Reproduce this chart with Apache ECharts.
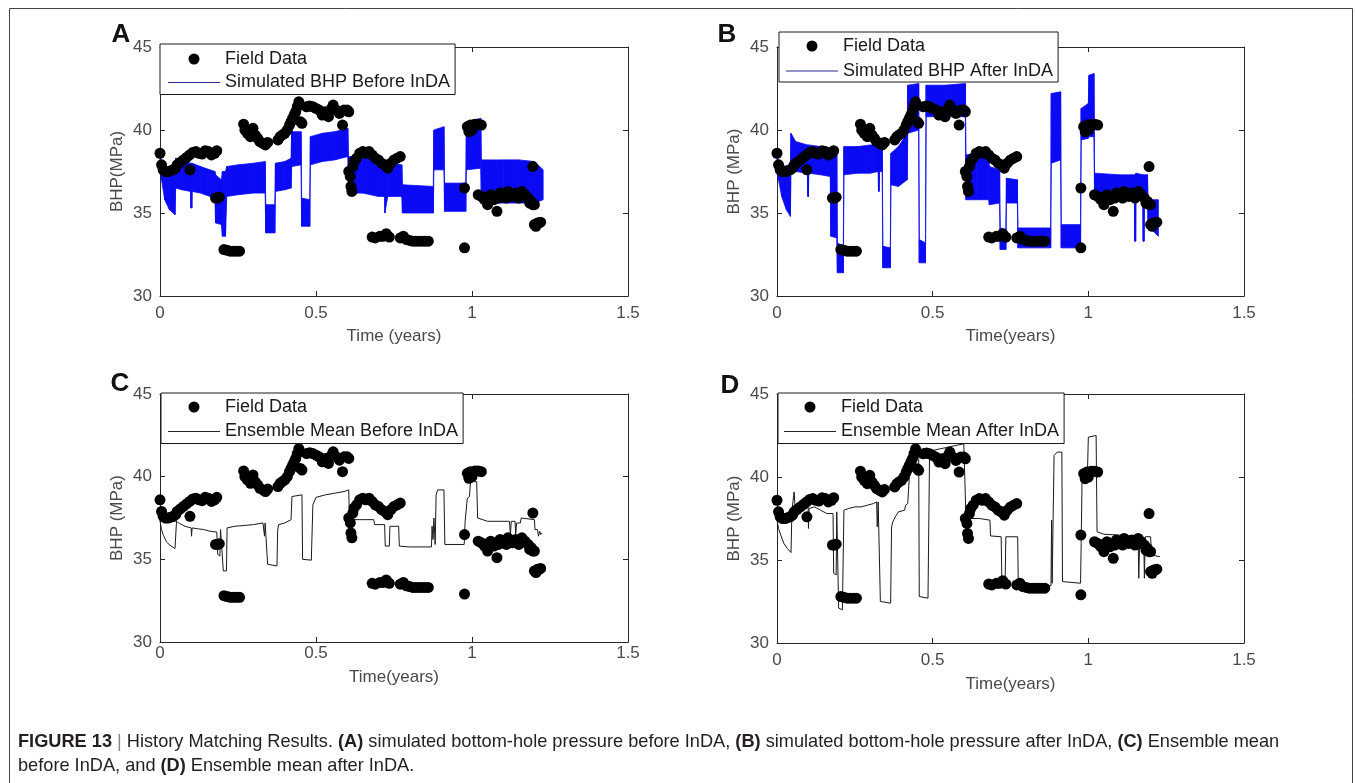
<!DOCTYPE html>
<html><head><meta charset="utf-8">
<script src="https://cdn.jsdelivr.net/npm/echarts@6/dist/echarts.min.js"></script>
<style>html,body{margin:0;padding:0;background:#fff}#c{width:1355px;height:783px}</style>
</head><body><div id="c"></div>
<script>
// ---------- data ----------
const xTicks = [0, 0.5, 1, 1.5];
const yTicks = [30, 35, 40, 45];

// field data [time (years), BHP (MPa)] – same in all four panels
const fieldData = [
[0,38.6],[0.005,37.9],[0.01,37.6],[0.018,37.5],[0.026,37.5],[0.034,37.55],[0.042,37.6],[0.05,37.7],
[0.055,37.9],[0.065,38.05],[0.075,38.2],[0.085,38.35],[0.095,38.5],[0.096,37.6],[0.105,38.65],[0.115,38.7],[0.125,38.6],[0.135,38.55],[0.145,38.75],[0.155,38.7],[0.165,38.5],[0.175,38.6],[0.182,38.75],
[0.178,35.9],[0.185,35.9],[0.19,35.95],
[0.205,32.8],[0.215,32.75],[0.225,32.7],[0.235,32.7],[0.245,32.7],[0.255,32.7],
[0.268,40.35],[0.272,40.0],[0.28,39.8],[0.283,40.0],[0.29,39.6],[0.298,40.1],[0.305,39.7],[0.313,39.5],[0.32,39.3],[0.33,39.2],[0.338,39.1],[0.345,39.25],
[0.378,39.4],[0.385,39.6],[0.392,39.7],[0.4,39.8],[0.408,40.0],[0.415,40.3],[0.42,40.5],[0.425,40.7],[0.43,40.9],[0.435,41.1],[0.44,41.4],[0.445,41.7],[0.45,40.5],[0.455,40.4],
[0.47,41.4],[0.48,41.45],[0.49,41.4],[0.5,41.3],[0.51,41.2],[0.52,40.9],[0.53,41.1],[0.54,40.8],[0.55,41.3],[0.555,41.5],[0.565,41.2],[0.575,41.0],[0.585,40.3],[0.59,41.2],[0.6,41.2],[0.605,41.1],
[0.605,37.5],[0.61,37.2],[0.612,36.6],[0.615,36.3],[0.618,37.8],[0.622,38.1],[0.63,38.3],[0.64,38.6],[0.65,38.7],[0.66,38.6],[0.67,38.7],[0.68,38.5],[0.69,38.3],[0.7,38.2],[0.71,38.0],[0.72,37.9],[0.73,37.7],[0.74,38.0],[0.75,38.2],[0.76,38.3],[0.77,38.4],
[0.68,33.55],[0.69,33.5],[0.705,33.6],[0.715,33.6],[0.725,33.75],[0.735,33.55],[0.77,33.5],[0.78,33.6],[0.79,33.4],[0.8,33.35],[0.81,33.3],[0.82,33.3],[0.83,33.3],[0.84,33.3],[0.85,33.3],[0.86,33.3],
[0.976,32.9],[0.976,36.5],
[0.985,40.2],[0.99,39.9],[0.995,40.3],[1.0,40.0],[1.005,40.3],[1.01,40.35],[1.02,40.35],[1.03,40.3],
[1.02,36.1],[1.03,36.0],[1.04,35.8],[1.05,35.5],[1.055,36.0],[1.06,36.1],[1.07,35.8],[1.08,35.1],[1.085,35.9],[1.09,36.2],[1.1,36.0],[1.11,35.9],[1.115,36.3],[1.12,36.1],[1.13,36.0],[1.14,36.2],[1.15,35.9],[1.16,36.3],[1.17,36.1],[1.18,35.9],[1.185,35.6],[1.19,35.7],[1.2,35.5],
[1.195,37.8],[1.195,35.5],
[1.2,34.3],[1.205,34.2],[1.21,34.4],[1.215,34.4],[1.22,34.45]
];

// ensemble envelope [time, lowest member, highest member]
const bandA = [
[0,37.6,38.5],[0.005,37.0,37.9],[0.015,35.8,37.8],[0.03,35.2,37.7],[0.048,34.9,37.5],
[0.05,36.5,38.3],[0.07,36.4,38.2],[0.098,36.3,38.0],[0.099,35.3,38.0],[0.102,35.3,38.0],[0.103,36.3,38.0],
[0.13,36.2,37.8],[0.16,36.0,37.6],[0.176,36.0,37.5],
[0.178,34.4,37.3],[0.197,34.3,37.0],[0.2,33.6,37.5],[0.21,33.6,37.5],
[0.214,36.0,37.8],[0.25,36.1,37.9],[0.3,36.2,38.0],[0.337,36.2,38.1],
[0.339,33.8,35.5],[0.368,33.8,35.5],
[0.37,36.3,38.0],[0.4,36.4,38.1],[0.42,36.5,38.3],
[0.422,37.8,39.9],[0.452,37.9,39.9],
[0.454,34.2,35.9],[0.48,34.2,35.8],
[0.482,37.9,39.6],[0.52,38.1,39.8],[0.56,38.2,39.9],[0.602,38.4,40.1],
[0.604,36.2,38.4],[0.65,36.2,38.4],[0.7,36.0,38.3],[0.72,36.0,38.2],
[0.721,35.0,38.0],[0.73,36.0,38.0],[0.775,36.0,37.9],
[0.777,35.0,36.7],[0.876,35.0,36.6],
[0.878,37.6,40.0],[0.91,37.6,40.2],
[0.912,35.1,36.8],[0.98,35.1,36.8],
[0.982,37.6,40.5],[1.028,37.7,40.7],
[1.03,35.6,38.2],[1.1,35.6,38.2],[1.15,35.6,38.2],[1.2,35.6,38.1],[1.228,35.8,37.6]
];
const bandB = [
[0,37.4,38.6],[0.005,37.0,38.0],[0.015,36.0,37.9],[0.03,35.2,37.8],[0.043,34.8,37.6],
[0.045,37.5,39.8],[0.06,37.5,39.3],[0.098,37.4,39.1],[0.099,36.0,39.1],[0.101,36.0,39.1],[0.102,37.4,39.1],
[0.14,37.3,39.0],[0.171,37.2,38.9],
[0.173,33.6,38.8],[0.192,33.5,38.7],[0.194,31.4,33.2],[0.213,31.4,33.0],
[0.215,37.3,39.0],[0.26,37.4,39.0],[0.3,37.4,39.1],[0.325,37.5,39.1],[0.326,36.3,39.1],[0.328,36.3,39.1],[0.329,37.5,39.2],[0.338,37.5,39.2],
[0.34,31.7,33.0],[0.364,31.7,32.9],
[0.366,36.7,38.6],[0.39,36.6,39.0],[0.418,37.0,39.8],
[0.42,39.8,42.7],[0.455,40.0,42.8],
[0.457,32.0,33.4],[0.477,32.0,33.2],
[0.479,40.8,42.7],[0.54,40.8,42.7],[0.605,40.8,42.8],
[0.607,35.8,38.5],[0.64,35.8,38.6],[0.68,35.8,38.2],
[0.682,35.5,37.8],[0.715,35.6,37.6],
[0.717,32.8,34.1],[0.735,32.8,34.0],
[0.737,35.6,37.1],[0.772,35.6,37.0],
[0.774,32.9,34.1],[0.879,32.9,34.1],
[0.881,38.0,42.2],[0.911,38.2,42.3],
[0.913,32.9,34.3],[0.975,32.9,34.3],
[0.977,39.4,41.3],[1.0,39.5,41.6],[1.002,39.6,43.3],[1.018,39.6,43.4],
[1.02,35.9,37.4],[1.1,35.9,37.3],[1.148,35.9,37.3],[1.149,33.3,37.3],[1.152,33.3,37.3],[1.153,35.9,37.4],
[1.175,35.9,37.3],[1.176,33.3,37.3],[1.179,33.3,37.3],[1.18,35.9,37.3],[1.19,35.9,37.3],
[1.192,34.2,35.8],[1.225,33.6,35.8]
];

// ensemble mean [time, BHP]; null breaks the line
const meanC = [
[0,37.3],[0.05,37.3],[0.05,null],
[0,37.3],[0.005,36.8],[0.011,36.45],[0.021,36.05],[0.032,35.85],[0.048,35.65],[0.052,35.65],[0.053,37.3],
[0.06,37.2],[0.08,37.0],[0.1,36.9],[0.101,36.4],[0.103,36.9],[0.12,36.85],[0.14,36.8],[0.16,36.7],[0.182,36.65],
[0.185,35.3],[0.192,35.2],[0.194,36.8],[0.2,36.8],[0.203,34.3],[0.213,34.3],[0.215,36.9],
[0.24,37.0],[0.27,37.05],[0.3,37.1],[0.33,37.2],[0.335,36.4],[0.337,37.2],[0.343,37.2],
[0.345,34.7],[0.375,34.6],[0.377,36.7],[0.38,37.1],[0.4,37.2],[0.42,37.4],
[0.423,38.8],[0.455,38.9],[0.457,35.0],[0.485,34.95],[0.49,38.3],[0.5,38.75],
[0.53,38.9],[0.56,39.0],[0.59,39.1],[0.605,39.2],
[0.607,37.4],[0.65,37.4],[0.685,37.4],[0.688,37.1],[0.72,37.1],
[0.722,35.8],[0.735,35.8],[0.737,37.0],[0.765,37.0],[0.767,35.8],[0.8,35.75],[0.87,35.75],
[0.872,37.0],[0.875,36.2],[0.878,37.5],[0.882,35.9],[0.885,38.9],[0.89,39.2],[0.91,39.2],
[0.913,35.9],[0.975,35.9],[0.978,37.3],[0.985,38.7],[0.992,38.8],[0.995,39.7],[1.015,39.7],
[1.018,37.5],[1.05,37.3],[1.12,37.3],[1.123,36.5],[1.126,37.3],[1.138,37.3],[1.14,36.5],[1.143,37.2],
[1.155,37.2],[1.158,37.5],[1.2,37.4],[1.202,36.8],[1.21,36.8],[1.213,36.4],[1.217,36.7],[1.22,36.5],[1.225,36.6]
];
const meanD = [
[0,37.4],[0.045,37.4],[0.045,null],
[0,37.4],[0.005,36.9],[0.012,36.5],[0.022,36.0],[0.033,35.7],[0.045,35.45],[0.047,35.4],
[0.048,38.0],[0.052,38.1],[0.055,39.1],[0.058,38.2],[0.07,38.0],[0.09,38.1],[0.1,38.2],[0.101,36.9],[0.103,38.1],
[0.12,38.2],[0.14,38.0],[0.16,37.8],[0.18,37.8],[0.182,34.2],[0.19,34.1],[0.192,37.9],[0.196,37.9],
[0.198,32.1],[0.21,32.0],[0.215,38.0],[0.23,38.1],[0.25,38.2],[0.27,38.2],[0.29,38.3],[0.31,38.4],
[0.32,38.5],[0.322,37.0],[0.325,38.5],[0.33,38.5],[0.332,32.5],[0.365,32.4],
[0.368,37.0],[0.372,37.3],[0.38,37.6],[0.39,37.9],[0.41,38.0],[0.413,38.3],[0.42,38.4],
[0.425,40.0],[0.44,41.0],[0.455,41.7],[0.457,32.8],[0.485,32.7],
[0.49,41.4],[0.5,41.6],[0.55,41.8],[0.6,42.0],[0.605,42.0],
[0.607,37.5],[0.65,37.5],[0.684,37.4],[0.686,36.45],[0.72,36.4],
[0.722,34.0],[0.733,33.95],[0.735,36.4],[0.773,36.4],[0.775,33.5],[0.82,33.5],[0.88,33.45],
[0.882,37.4],[0.884,33.6],[0.887,37.6],[0.89,41.3],[0.9,41.5],[0.915,41.5],
[0.917,33.7],[0.975,33.6],[0.977,36.0],[0.98,40.0],[0.997,40.1],[1.0,42.4],[1.025,42.5],
[1.028,36.7],[1.05,36.55],[1.1,36.5],[1.16,36.4],[1.162,33.9],[1.165,36.3],[1.178,36.3],
[1.18,33.9],[1.183,36.4],[1.2,36.4],[1.203,35.3],[1.23,35.2]
];

const panelLetters = ['A', 'B', 'C', 'D'];
const seriesNames = ['Simulated BHP Before InDA', 'Simulated BHP After InDA', 'Ensemble Mean Before InDA', 'Ensemble Mean After InDA'];
const xNames = ['Time (years)', 'Time(years)', 'Time(years)', 'Time(years)'];
const yNames = ['BHP(MPa)', 'BHP (MPa)', 'BHP (MPa)', 'BHP (MPa)'];
const fieldName = 'Field Data';

// ---------- layout ----------
const FONT = "'Liberation Sans', Arial, Helvetica, sans-serif";
const AXIS_COL = '#262626';
const LABEL_COL = '#4a4a4a';
const BLUE = '#0a0af5';

const grids = [
  {left: 160, top: 47, width: 468, height: 249},
  {left: 777, top: 47, width: 467, height: 249},
  {left: 160, top: 394, width: 468, height: 248},
  {left: 777, top: 394, width: 467, height: 249}
];
const xLabelMargin = [9, 9, 3, 9];
const xNameGap = [32, 32, 27, 33];
const legendPos = [
  {left: 160, top: 44, padding: [6, 5, 3, 8], itemGap: 5.5},
  {left: 779, top: 32, padding: [5, 5, 2, 7], itemGap: 7},
  {left: 161, top: 393, padding: [5, 5, 3, 7], itemGap: 6.5},
  {left: 778, top: 393, padding: [5, 5, 3, 6], itemGap: 6.5}
];
const legendLineColor = ['#2a2a90', '#2a2a90', '#222', '#222'];
const letterPos = [[121, 35], [727, 35], [120, 384], [730, 386]];

function bandSegments(band) {
  const segs = [];
  for (let k = 0; k < band.length - 1; k++) {
    segs.push([band[k][0], band[k][1], band[k][2], band[k + 1][0], band[k + 1][1], band[k + 1][2]]);
  }
  return segs;
}
function renderBand(params, api) {
  const p1l = api.coord([api.value(0), api.value(1)]);
  const p1h = api.coord([api.value(0), api.value(2)]);
  const p2l = api.coord([api.value(3), api.value(4)]);
  const p2h = api.coord([api.value(3), api.value(5)]);
  return {
    type: 'polygon',
    shape: {points: [p1l, p2l, p2h, p1h]},
    style: {fill: BLUE, stroke: BLUE, lineWidth: 0.8}
  };
}

const xAxes = [], yAxes = [], series = [], legends = [];
grids.forEach((g, i) => {
  xAxes.push({
    type: 'value', gridIndex: i, min: xTicks[0], max: xTicks[xTicks.length - 1],
    interval: xTicks[1] - xTicks[0], position: 'bottom',
    name: xNames[i], nameLocation: 'middle', nameGap: xNameGap[i],
    nameTextStyle: {fontSize: 17, color: LABEL_COL, fontFamily: FONT},
    axisLine: {show: true, onZero: false, lineStyle: {color: AXIS_COL, width: 1}},
    axisTick: {show: true, inside: true, length: 5, lineStyle: {color: AXIS_COL}},
    axisLabel: {fontSize: 17, color: LABEL_COL, margin: xLabelMargin[i], fontFamily: FONT},
    splitLine: {show: false}
  });
  xAxes.push({
    type: 'value', gridIndex: i, min: xTicks[0], max: xTicks[xTicks.length - 1],
    interval: xTicks[1] - xTicks[0], position: 'top',
    axisLine: {show: true, onZero: false, lineStyle: {color: AXIS_COL, width: 1}},
    axisTick: {show: true, inside: true, length: 5, lineStyle: {color: AXIS_COL}},
    axisLabel: {show: false}, splitLine: {show: false}
  });
  yAxes.push({
    type: 'value', gridIndex: i, min: yTicks[0], max: yTicks[yTicks.length - 1],
    interval: yTicks[1] - yTicks[0], position: 'left',
    name: yNames[i], nameLocation: 'middle', nameGap: 34, nameRotate: 90,
    nameTextStyle: {fontSize: 17, color: LABEL_COL, fontFamily: FONT},
    axisLine: {show: true, onZero: false, lineStyle: {color: AXIS_COL, width: 1}},
    axisTick: {show: true, inside: true, length: 5, lineStyle: {color: AXIS_COL}},
    axisLabel: {fontSize: 17, color: LABEL_COL, margin: 8, fontFamily: FONT},
    splitLine: {show: false}
  });
  yAxes.push({
    type: 'value', gridIndex: i, min: yTicks[0], max: yTicks[yTicks.length - 1],
    interval: yTicks[1] - yTicks[0], position: 'right',
    axisLine: {show: true, onZero: false, lineStyle: {color: AXIS_COL, width: 1}},
    axisTick: {show: true, inside: true, length: 5, lineStyle: {color: AXIS_COL}},
    axisLabel: {show: false}, splitLine: {show: false}
  });

  const xi = i * 2, yi = i * 2;
  if (i < 2) {
    series.push({
      name: seriesNames[i], type: 'custom', xAxisIndex: xi, yAxisIndex: yi,
      data: bandSegments(i === 0 ? bandA : bandB),
      dimensions: ['t1', 'lo1', 'hi1', 't2', 'lo2', 'hi2'],
      encode: {x: [0, 3], y: [1, 2, 4, 5]},
      renderItem: renderBand, itemStyle: {color: BLUE}, silent: true, z: 2
    });
  } else {
    series.push({
      name: seriesNames[i], type: 'line', xAxisIndex: xi, yAxisIndex: yi,
      data: i === 2 ? meanC : meanD, symbol: 'none', showSymbol: false, connectNulls: false,
      lineStyle: {color: '#1a1a1a', width: 1}, silent: true, z: 2
    });
  }
  series.push({
    name: fieldName, type: 'scatter', xAxisIndex: xi, yAxisIndex: yi,
    data: fieldData, symbol: 'circle', symbolSize: 11,
    itemStyle: {color: '#000', opacity: 1}, silent: true, z: 3
  });

  const lp = legendPos[i];
  legends.push({
    orient: 'vertical', left: lp.left, top: lp.top, padding: lp.padding, itemGap: lp.itemGap,
    itemWidth: 52, itemHeight: 11, selectedMode: false,
    backgroundColor: '#fff', borderColor: '#1a1a1a', borderWidth: 1, borderRadius: 0,
    textStyle: {fontSize: 18, color: '#1a1a1a', fontFamily: FONT, lineHeight: 18},
    data: [
      {name: fieldName, icon: 'path://M0,0M52,11M20.5,5.5A5.5,5.5,0,1,0,31.5,5.5A5.5,5.5,0,1,0,20.5,5.5Z',
       itemStyle: {color: '#000', borderWidth: 0}},
      {name: seriesNames[i], icon: 'path://M0,0M52,11M0,4.9H52V6.1H0Z',
       itemStyle: {color: legendLineColor[i], borderWidth: 0}}
    ]
  });
});

const graphics = [];
panelLetters.forEach((L, i) => {
  graphics.push({
    type: 'text', x: letterPos[i][0], y: letterPos[i][1], z: 10,
    style: {text: L, font: "bold 26px " + FONT, fill: '#111', align: 'center', verticalAlign: 'middle'}
  });
});
const CAP = 18.2;
graphics.push({
  type: 'text', x: 18, y: 742, z: 10,
  style: {
    text: '{b|FIGURE 13} {s||} History Matching Results. {b|(A)} simulated bottom-hole pressure before InDA, {b|(B)} simulated bottom-hole pressure after InDA, {b|(C)} Ensemble mean',
    font: CAP + "px " + FONT, fill: '#231f20', verticalAlign: 'middle',
    rich: {b: {fontWeight: 'bold', fontSize: CAP, fontFamily: FONT, fill: '#231f20'},
           s: {fontSize: CAP, fontFamily: FONT, fill: '#888'}}
  }
});
graphics.push({
  type: 'text', x: 18, y: 766, z: 10,
  style: {
    text: 'before InDA, and {b|(D)} Ensemble mean after InDA.',
    font: CAP + "px " + FONT, fill: '#231f20', verticalAlign: 'middle',
    rich: {b: {fontWeight: 'bold', fontSize: CAP, fontFamily: FONT, fill: '#231f20'}}
  }
});
graphics.push({
  type: 'rect', z: 0, silent: true,
  shape: {x: 9.5, y: 8.5, width: 1343, height: 800},
  style: {fill: 'none', stroke: '#444', lineWidth: 1}
});

const chart = echarts.init(document.getElementById('c'), null, {renderer: 'canvas'});
chart.setOption({
  animation: false,
  backgroundColor: '#fff',
  textStyle: {fontFamily: FONT},
  grid: grids.map(g => Object.assign({outerBoundsMode: 'none', containLabel: false}, g)),
  xAxis: xAxes, yAxis: yAxes, legend: legends, series: series, graphic: graphics
});
</script></body></html>
